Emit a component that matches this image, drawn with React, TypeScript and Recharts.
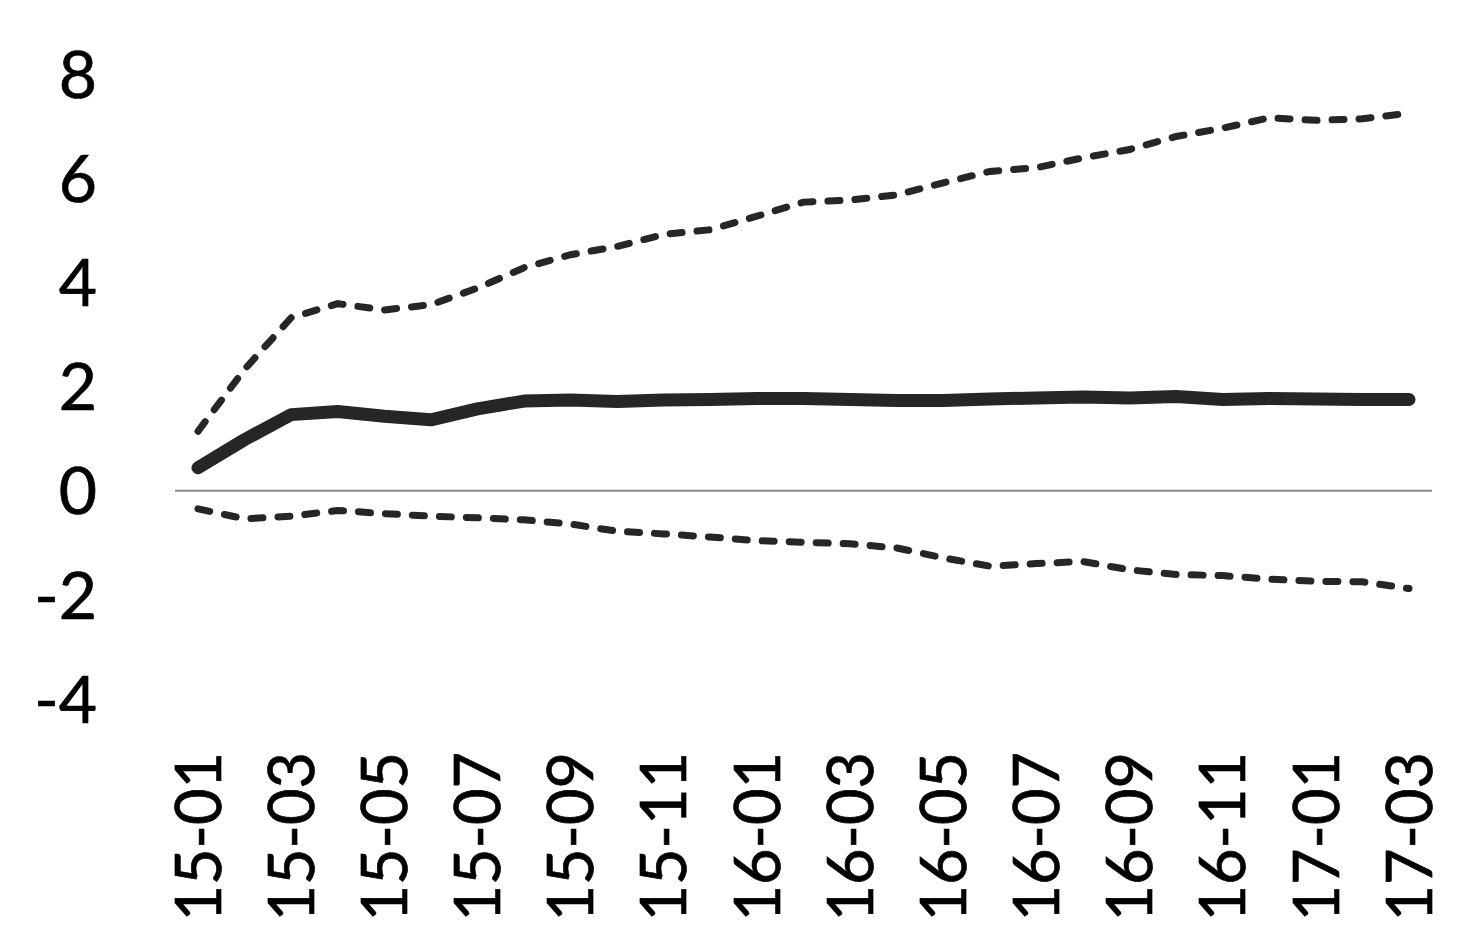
import { CartesianGrid, Line, LineChart, ReferenceLine, XAxis, YAxis } from 'recharts';

const months = [
  '15-01', '15-02', '15-03', '15-04', '15-05', '15-06', '15-07', '15-08', '15-09',
  '15-10', '15-11', '15-12', '16-01', '16-02', '16-03', '16-04', '16-05', '16-06',
  '16-07', '16-08', '16-09', '16-10', '16-11', '16-12', '17-01', '17-02', '17-03',
];

const central = [
  0.44, 0.98, 1.46, 1.52, 1.43, 1.36, 1.57, 1.72, 1.74,
  1.71, 1.74, 1.75, 1.77, 1.77, 1.75, 1.73, 1.73, 1.76,
  1.78, 1.8, 1.78, 1.81, 1.75, 1.77, 1.76, 1.75, 1.75,
];

const upper = [
  1.14, 2.33, 3.32, 3.59, 3.47, 3.57, 3.89, 4.28, 4.53,
  4.69, 4.92, 5.01, 5.27, 5.54, 5.58, 5.68, 5.91, 6.13,
  6.2, 6.39, 6.55, 6.8, 6.96, 7.16, 7.11, 7.14, 7.25,
];

const lower = [
  -0.35, -0.54, -0.49, -0.38, -0.44, -0.49, -0.52, -0.56, -0.64,
  -0.78, -0.83, -0.89, -0.96, -0.99, -1.02, -1.1, -1.29, -1.45,
  -1.4, -1.36, -1.52, -1.61, -1.63, -1.7, -1.74, -1.75, -1.88,
];

const yTicks = [-4, -2, 0, 2, 4, 6, 8];

const data = months.map((m, i) => ({
  month: m,
  central: central[i],
  upper: upper[i],
  lower: lower[i],
}));

const font = 'Lato, sans-serif';
const ink = '#262626';

function XTick({ x, payload }: any) {
  return (
    <text
      x={x}
      y={752}
      transform={`rotate(-90, ${x}, 752)`}
      textAnchor="end"
      dy="0.36em"
      fontSize={63}
      fontFamily={font}
      fill="#000"
      stroke="#000"
      strokeWidth={0.7}
    >
      {payload.value}
    </text>
  );
}

function YTick({ y, payload }: any) {
  return (
    <text
      x={97}
      y={y}
      textAnchor="end"
      dy="0.36em"
      fontSize={66}
      fontFamily={font}
      fill="#000"
      stroke="#000"
      strokeWidth={0.7}
    >
      {payload.value}
    </text>
  );
}

export default function App() {
  return (
    <div style={{ position: 'absolute', left: 0, top: 0, background: '#fff' }}>
      <LineChart width={1482} height={947} data={data} margin={{ top: 74, right: 50, bottom: 0, left: 0 }}>
        <CartesianGrid horizontal={false} vertical={false} />
        <XAxis
          dataKey="month"
          interval={1}
          axisLine={false}
          tickLine={false}
          height={248}
          padding={{ left: 23, right: 23 }}
          tick={<XTick />}
        />
        <YAxis
          width={175}
          domain={[-4, 8]}
          ticks={yTicks}
          axisLine={false}
          tickLine={false}
          tick={<YTick />}
        />
        <ReferenceLine y={0} stroke="#868686" strokeWidth={2} />
        <Line
          dataKey="upper"
          stroke={ink}
          strokeWidth={7}
          strokeDasharray="12 15"
          strokeLinecap="round"
          dot={false}
          isAnimationActive={false}
        />
        <Line
          dataKey="lower"
          stroke={ink}
          strokeWidth={7}
          strokeDasharray="12 15"
          strokeLinecap="round"
          dot={false}
          isAnimationActive={false}
        />
        <Line
          dataKey="central"
          stroke={ink}
          strokeWidth={13}
          strokeLinecap="round"
          strokeLinejoin="round"
          dot={false}
          isAnimationActive={false}
        />
      </LineChart>
    </div>
  );
}
